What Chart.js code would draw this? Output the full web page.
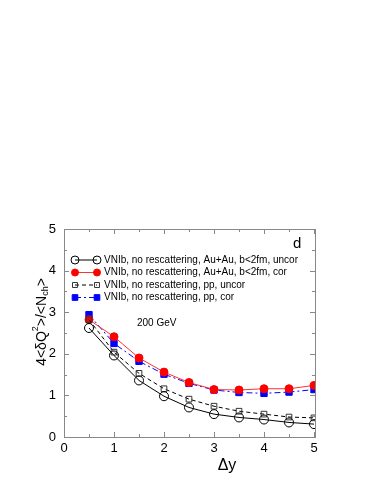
<!DOCTYPE html>
<html>
<head>
<meta charset="utf-8">
<script src="https://cdn.jsdelivr.net/npm/chart.js@4"></script>
<style>
  html, body { margin: 0; padding: 0; background: #fff; }
  #wrap { width: 382px; height: 494px; }
</style>
</head>
<body>
<div id="wrap"><canvas id="graph" width="382" height="494"></canvas></div>
<script>
'use strict';

// Δy の値
let dy = [0.5, 1, 1.5, 2, 2.5, 3, 3.5, 4, 4.5, 5];
// 各系列の値
let auauUncor = [2.62, 1.96, 1.36, 0.98, 0.71, 0.55, 0.47, 0.42, 0.35, 0.31];
let auauCor   = [2.82, 2.41, 1.90, 1.56, 1.31, 1.14, 1.13, 1.16, 1.16, 1.24];
let ppUncor   = [2.82, 2.04, 1.53, 1.16, 0.91, 0.74, 0.62, 0.55, 0.48, 0.46];
let ppCor     = [2.94, 2.25, 1.82, 1.51, 1.29, 1.13, 1.07, 1.05, 1.08, 1.14];
let seriesNames = [
    'VNIb, no rescattering, Au+Au, b<2fm, uncor',
    'VNIb, no rescattering, Au+Au, b<2fm, cor',
    'VNIb, no rescattering, pp, uncor',
    'VNIb, no rescattering, pp, cor'
];
let xTicks = [0, 1, 2, 3, 4, 5];
let yTicks = [0, 1, 2, 3, 4, 5];

const FONT = '"Liberation Sans", Arial, sans-serif';

function pts(ys) {
    return dy.map((x, i) => ({ x: x, y: ys[i] }));
}

let datasets = [
    {
        label: seriesNames[0], data: pts(auauUncor),
        borderColor: '#000', borderWidth: 1,
        pointStyle: 'circle', pointRadius: 4.5, pointBackgroundColor: 'rgba(0,0,0,0)',
        pointBorderColor: '#000', pointBorderWidth: 1
    },
    {
        label: seriesNames[2], data: pts(ppUncor),
        borderColor: '#000', borderWidth: 1, borderDash: [4, 3],
        pointStyle: 'rect', pointRadius: 4, pointBackgroundColor: 'rgba(0,0,0,0)',
        pointBorderColor: '#333', pointBorderWidth: 1
    },
    {
        label: seriesNames[1], data: pts(auauCor),
        borderColor: '#ff3030', borderWidth: 1,
        pointStyle: 'circle', pointRadius: 4, pointBackgroundColor: '#ff0000',
        pointBorderColor: '#ff0000', pointBorderWidth: 1
    },
    {
        label: seriesNames[3], data: pts(ppCor),
        borderColor: '#0000ff', borderWidth: 1, borderDash: [6, 3, 2, 3],
        pointStyle: 'rect', pointRadius: 4.5, pointBackgroundColor: '#0000ff',
        pointBorderColor: '#0000ff', pointBorderWidth: 1
    }
];

// 枠・目盛り・凡例・軸タイトルを描く
const decorations = {
    id: 'decorations',
    afterDraw(chart) {
        const ctx = chart.ctx;
        const a = chart.chartArea;
        const xs = chart.scales.x, ys = chart.scales.y;
        ctx.save();
        // 枠
        ctx.strokeStyle = '#888';
        ctx.lineWidth = 1;
        ctx.strokeRect(Math.round(a.left) + 0.5, Math.round(a.top) + 0.5,
            Math.round(a.right - a.left), Math.round(a.bottom - a.top));
        // 内向きの目盛り
        ctx.beginPath();
        for (let v = 0; v <= 5.001; v += 0.5) {
            const len = (v % 1 === 0) ? 5 : 3;
            const px = Math.round(xs.getPixelForValue(v)) + 0.5;
            ctx.moveTo(px, a.bottom); ctx.lineTo(px, a.bottom - len);
            ctx.moveTo(px, a.top); ctx.lineTo(px, a.top + len);
            const py = Math.round(ys.getPixelForValue(v)) + 0.5;
            ctx.moveTo(a.left, py); ctx.lineTo(a.left + len, py);
            ctx.moveTo(a.right, py); ctx.lineTo(a.right - len, py);
        }
        ctx.stroke();

        // 凡例
        const order = [0, 2, 1, 3];
        ctx.font = '10px ' + FONT;
        ctx.textBaseline = 'middle';
        ctx.textAlign = 'left';
        order.forEach((di, k) => {
            const ds = chart.data.datasets[di];
            const y = 260 + k * 12.5;
            const x0 = 75, x1 = 97;
            ctx.strokeStyle = ds.borderColor;
            ctx.lineWidth = 1;
            ctx.setLineDash(ds.borderDash || []);
            ctx.beginPath();
            ctx.moveTo(x0, y); ctx.lineTo(x1, y);
            ctx.stroke();
            ctx.setLineDash([]);
            const r = ds.pointRadius - 0.5;
            [x0, x1].forEach(px => {
                ctx.fillStyle = ds.pointBackgroundColor;
                ctx.strokeStyle = ds.pointBorderColor;
                ctx.beginPath();
                if (ds.pointStyle === 'circle') {
                    ctx.arc(px, y, r, 0, Math.PI * 2);
                } else {
                    const s = r * Math.SQRT1_2;
                    ctx.rect(px - s, y - s, 2 * s, 2 * s);
                }
                ctx.fill();
                ctx.stroke();
            });
            ctx.fillStyle = '#000';
            ctx.fillText(ds.label, 104, y);
        });

        // 注記
        ctx.fillStyle = '#000';
        ctx.font = '10px ' + FONT;
        ctx.fillText('200 GeV', 137, 323);
        ctx.font = '15px ' + FONT;
        ctx.fillText('d', 293, 244);

        // x 軸タイトル
        ctx.font = '16px ' + FONT;
        ctx.textAlign = 'center';
        ctx.textBaseline = 'middle';
        ctx.fillText('Δy', 227, 466);

        // y 軸タイトル（上付き・下付き付き）
        ctx.translate(42, 322);
        ctx.rotate(-Math.PI / 2);
        const parts = [
            { t: '4<δQ', f: 14, dy: 0 },
            { t: '2', f: 9, dy: -6 },
            { t: '>/<N', f: 14, dy: 0 },
            { t: 'ch', f: 9, dy: 4 },
            { t: '>', f: 14, dy: 0 }
        ];
        let total = 0;
        parts.forEach(p => { ctx.font = p.f + 'px ' + FONT; total += ctx.measureText(p.t).width; });
        let cx = -total / 2;
        ctx.textAlign = 'left';
        parts.forEach(p => {
            ctx.font = p.f + 'px ' + FONT;
            ctx.fillText(p.t, cx, p.dy);
            cx += ctx.measureText(p.t).width;
        });
        ctx.restore();
    }
};

let chart = new Chart(document.querySelector('#graph').getContext('2d'), {
    type: 'line',
    data: { datasets: datasets },
    options: {
        responsive: false,
        animation: false,
        layout: { padding: { left: 0, right: 67, top: 229, bottom: 0 } },
        plugins: { legend: { display: false }, tooltip: { enabled: false } },
        scales: {
            x: {
                type: 'linear', min: 0, max: 5.02,
                afterBuildTicks: s => { s.ticks = xTicks.map(v => ({ value: v })); },
                afterFit: s => { s.height = 57; },
                grid: { display: false, drawTicks: false },
                border: { display: false },
                ticks: { color: '#000', font: { family: FONT, size: 13 }, padding: 4, maxRotation: 0 }
            },
            y: {
                type: 'linear', min: 0, max: 5,
                afterBuildTicks: s => { s.ticks = yTicks.map(v => ({ value: v })); },
                afterFit: s => { s.width = 64; },
                grid: { display: false, drawTicks: false },
                border: { display: false },
                ticks: { color: '#000', font: { family: FONT, size: 13 }, padding: 8 }
            }
        }
    },
    plugins: [decorations]
});
</script>
</body>
</html>
